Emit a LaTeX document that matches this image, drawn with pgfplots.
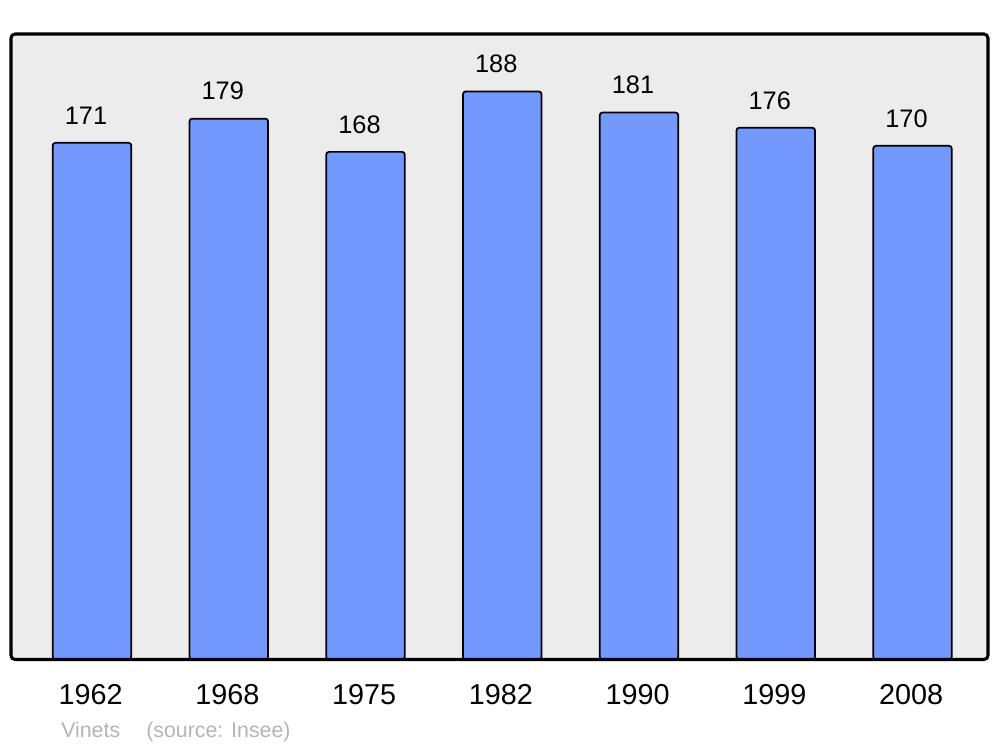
\documentclass[border=0pt]{standalone}
\usepackage{pgfplots}
\pgfplotsset{compat=1.18}
\usepackage{fontspec}
\setmainfont{Liberation Sans}
\definecolor{barblue}{RGB}{115,153,255}
\definecolor{bggray}{RGB}{236,236,236}
\definecolor{srcgray}{RGB}{180,180,180}
\begin{document}
\begin{tikzpicture}
\path[use as bounding box] (0,0) rectangle (750pt,560.25pt);
\begin{axis}[
  at={(8.25pt,65.625pt)}, anchor=south west,
  scale only axis,
  width=732.75pt, height=469.1pt,
  xmin=-0.5923, xmax=6.552,
  ymin=0, ymax=207.0,
  ybar, bar width=0.574,
  axis line style={draw=none},
  tick style={draw=none},
  major tick length=0pt,
  xtick=data,
  xticklabels={1962,1968,1975,1982,1990,1999,2008},
  xticklabel style={font=\fontsize{21.6pt}{21.6pt}\selectfont, anchor=base, yshift=-33.75pt, xshift=-1pt},
  ytick=\empty,
  axis background/.style={fill=bggray},
  nodes near coords,
  nodes near coords style={font=\fontsize{19pt}{19pt}\selectfont, anchor=base, yshift=14pt, xshift=-4.5pt, inner sep=0pt},
  /pgf/number format/assume math mode=true,
  clip=false,
]
\addplot[fill=barblue, draw=black, line width=1.3pt, rounded corners=2pt] coordinates {
  (0,171) (1,179) (2,168) (3,188) (4,181) (5,176) (6,170)
};
\draw[line width=2.3pt, rounded corners=3pt] (rel axis cs:0,0) rectangle (rel axis cs:1,1);
\end{axis}
\node[anchor=base west, inner sep=0pt, text=srcgray, font=\fontsize{16pt}{16pt}\selectfont] at (45.75pt,7.5pt) {Vinets};
\node[anchor=base west, inner sep=0pt, text=srcgray, font=\fontsize{16pt}{16pt}\selectfont] at (109.5pt,7.5pt) {(source: Insee)};
\end{tikzpicture}
\end{document}
